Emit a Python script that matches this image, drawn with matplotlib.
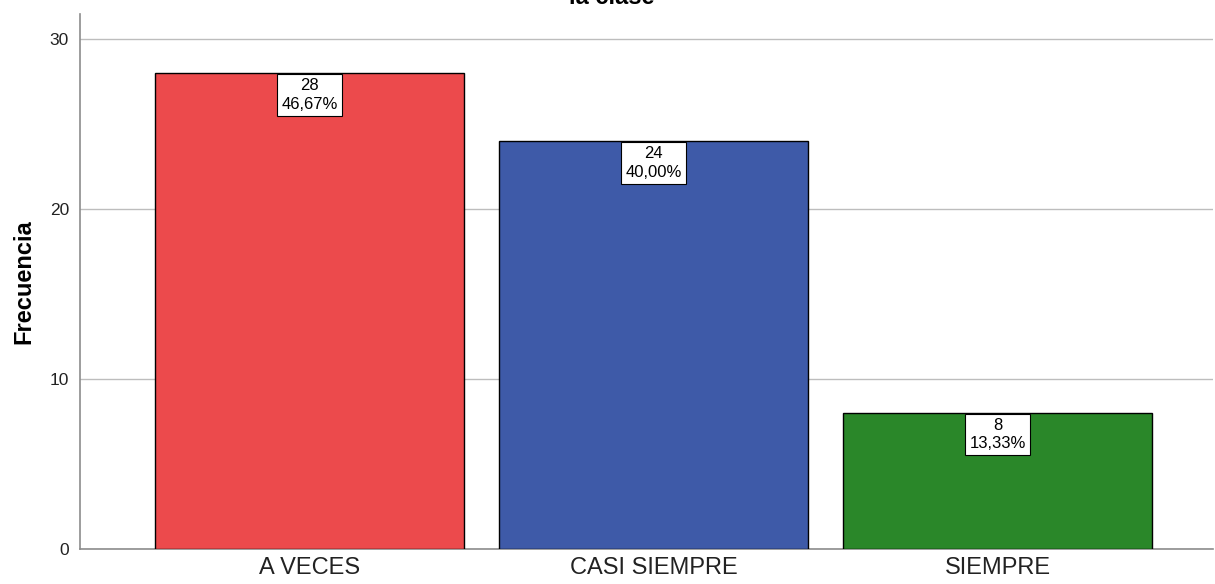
import matplotlib.pyplot as plt

# === Data ===
categories = ["A VECES", "CASI SIEMPRE", "SIEMPRE"]
counts = [28, 24, 8]
percents = ["46,67%", "40,00%", "13,33%"]
bar_colors = ["#EC4A4C", "#3E5AA8", "#2A8729"]
y_ticks = [0, 10, 20, 30]

plt.rcParams['font.family'] = ['Liberation Sans', 'DejaVu Sans']

fig = plt.figure(figsize=(12.15, 5.84), dpi=100)
ax = fig.add_axes([80 / 1215, 35 / 584, 1133 / 1215, 535 / 584])

x = list(range(len(categories)))
ax.bar(x, counts, width=0.898, color=bar_colors, edgecolor="black",
       linewidth=1.0, zorder=3)

# value / percent boxes on top of each bar
for xi, c, p in zip(x, counts, percents):
    ax.text(xi, c - 0.27, f"{c}\n{p}", ha="center", va="top", fontsize=12,
            linespacing=1.3, zorder=4,
            bbox=dict(boxstyle="square,pad=0.25", facecolor="white",
                      edgecolor="black", linewidth=0.8))

ax.set_xlim(-0.667, 2.626)
ax.set_ylim(0, 31.5)
ax.set_yticks(y_ticks)
ax.set_xticks(x)
ax.set_xticklabels(categories, fontsize=17, color="#222222")
ax.tick_params(axis="y", length=0, labelsize=12.5, pad=8, labelcolor="#222222")
ax.tick_params(axis="x", length=0, pad=6)

ax.grid(axis="y", color="#BDBDBD", linewidth=1.0, zorder=0)
ax.set_axisbelow(True)

for side in ["top", "right"]:
    ax.spines[side].set_visible(False)
for side in ["left", "bottom"]:
    ax.spines[side].set_color("#8C8C8C")
    ax.spines[side].set_linewidth(1.2)

ax.set_ylabel("Frecuencia", fontsize=17, fontweight="bold", labelpad=10)

# title is mostly cut off at the top of the image (as in the source)
fig.text(612 / 1215, 1 - 4 / 584, "la clase", ha="center", va="baseline",
         fontsize=17, fontweight="bold")

fig.savefig("out.png", dpi=100)
